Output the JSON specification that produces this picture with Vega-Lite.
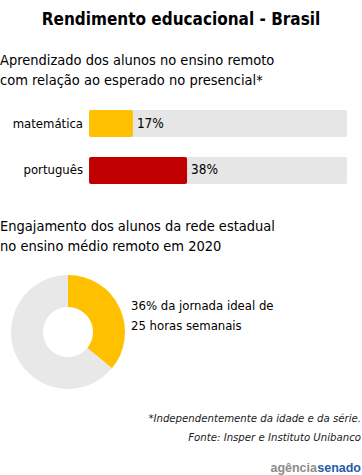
{
  "$schema": "https://vega.github.io/schema/vega-lite/v6.json",
  "padding": {"left": 0, "top": 10, "right": 0, "bottom": 0},
  "background": "white",
  "config": {
    "view": {"stroke": null},
    "font": "DejaVu Sans Condensed",
    "title": {"font": "DejaVu Sans Condensed", "color": "#000000"}
  },
  "title": {"text": "Rendimento educacional - Brasil", "anchor": "middle", "frame": "bounds", "fontSize": 17, "fontWeight": "bold", "offset": 24},
  "spacing": 24,
  "resolve": {"scale": {"color": "independent", "x": "independent", "y": "independent"}},
  "vconcat": [
    {
      "title": {"text": ["Aprendizado dos alunos no ensino remoto", "com relação ao esperado no presencial*"], "anchor": "start", "frame": "bounds", "fontSize": 14.5, "fontWeight": "normal", "lineHeight": 20, "offset": 12},
      "width": 362,
      "height": 94,
      "data": {"values": [
        {"materia": "matemática", "valor": 17, "total": 100, "rotulo": "17%"},
        {"materia": "português", "valor": 38, "total": 100, "rotulo": "38%"}
      ]},
      "encoding": {
        "y": {"field": "materia", "type": "nominal", "sort": null,
          "scale": {"paddingInner": 0.4255, "paddingOuter": 0.2128},
          "axis": null}
      },
      "layer": [
        {"mark": {"type": "bar", "color": "#E6E6E6", "cornerRadius": 2},
         "encoding": {
           "x": {"field": "total", "type": "quantitative", "scale": {"domain": [-34.5, 105.8], "nice": false, "zero": false}, "axis": null},
           "x2": {"datum": 0}}},
        {"mark": {"type": "bar", "cornerRadius": 2},
         "encoding": {
           "x": {"field": "valor", "type": "quantitative"},
           "x2": {"datum": 0},
           "color": {"field": "materia", "type": "nominal", "scale": {"domain": ["matemática", "português"], "range": ["#FFC000", "#C00000"]}, "legend": null}}},
        {"mark": {"type": "text", "align": "left", "dx": 4, "fontSize": 13.5, "color": "#000000"},
         "encoding": {"x": {"field": "valor", "type": "quantitative"}, "text": {"field": "rotulo"}}},
        {"mark": {"type": "text", "align": "right", "dx": -6, "fontSize": 13, "color": "#000000"},
         "encoding": {"x": {"datum": 0, "type": "quantitative"}, "text": {"field": "materia"}}}
      ]
    },
    {
      "title": {"text": ["Engajamento dos alunos da rede estadual", "no ensino médio remoto em 2020"], "anchor": "start", "frame": "bounds", "fontSize": 14.5, "fontWeight": "normal", "lineHeight": 20, "offset": 21},
      "width": 136,
      "height": 114,
      "layer": [
        {
          "data": {"values": [
            {"parte": "engajado", "valor": 36, "ordem": 1},
            {"parte": "restante", "valor": 64, "ordem": 2}
          ]},
          "mark": {"type": "arc", "outerRadius": 57, "innerRadius": 25},
          "encoding": {
            "theta": {"field": "valor", "type": "quantitative", "stack": true},
            "order": {"field": "ordem", "type": "quantitative"},
            "color": {"field": "parte", "type": "nominal", "scale": {"domain": ["engajado", "restante"], "range": ["#FFC000", "#E8E8E8"]}, "legend": null}
          }
        },
        {
          "data": {"values": [{"texto": ["36% da jornada ideal de", "25 horas semanais"]}]},
          "mark": {"type": "text", "align": "left", "baseline": "top", "fontSize": 13, "lineHeight": 20, "dx": -5, "color": "#000000"},
          "encoding": {"x": {"value": "width"}, "y": {"value": 25}, "text": {"field": "texto"}}
        }
      ]
    },
    {
      "width": 361,
      "height": 59,
      "layer": [
        {
          "data": {"values": [{"nota": ["*Independentemente da idade e da série.", "Fonte:  Insper e Instituto Unibanco"]}]},
          "mark": {"type": "text", "align": "right", "baseline": "top", "fontSize": 11.3, "fontStyle": "italic", "lineHeight": 19, "color": "#1a1a1a"},
          "encoding": {"x": {"value": "width"}, "y": {"value": 0}, "text": {"field": "nota"}}
        },
        {
          "data": {"values": [{"marca": "senado"}]},
          "mark": {"type": "text", "align": "right", "baseline": "alphabetic", "fontSize": 12.5, "fontWeight": "bold", "font": "Liberation Sans", "color": "#1F5DA8"},
          "encoding": {"x": {"value": "width"}, "y": {"value": "height"}, "text": {"field": "marca"}}
        },
        {
          "data": {"values": [{"marca": "agência"}]},
          "mark": {"type": "text", "align": "right", "baseline": "alphabetic", "fontSize": 12.5, "fontWeight": "bold", "font": "Liberation Sans", "color": "#8C8C8C", "dx": -44},
          "encoding": {"x": {"value": "width"}, "y": {"value": "height"}, "text": {"field": "marca"}}
        }
      ]
    }
  ]
}
